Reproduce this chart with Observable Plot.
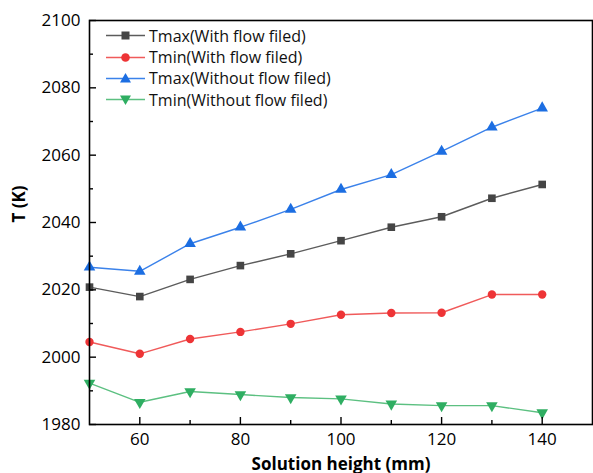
<!DOCTYPE html>
<html><head><meta charset="utf-8">
<script src="https://cdn.jsdelivr.net/npm/d3@7"></script>
<script src="https://cdn.jsdelivr.net/npm/@observablehq/plot@0.6"></script>
<style>
body{margin:0;background:#fff;}
#wrap{position:relative;width:593px;height:473px;overflow:hidden;font-family:"Open Sans",sans-serif;color:#000;}
#legend{position:absolute;left:106px;top:25px;}
.row{display:flex;align-items:center;height:21.4px;font-size:16px;color:#111;white-space:nowrap;}
.row svg{margin-right:3px;}
</style></head><body><div id="wrap"><div id="chart"></div><div id="legend"></div></div>
<script>
const heights = [50, 60, 70, 80, 90, 100, 110, 120, 130, 140];
const tmaxWith = [2020.8, 2018.0, 2023.1, 2027.2, 2030.7, 2034.6, 2038.6, 2041.7, 2047.2, 2051.3];
const tminWith = [2004.5, 2001.0, 2005.4, 2007.5, 2009.9, 2012.6, 2013.1, 2013.2, 2018.6, 2018.6];
const tmaxWithout = [2026.7, 2025.5, 2033.7, 2038.6, 2043.9, 2049.8, 2054.2, 2061.1, 2068.3, 2074.0];
const tminWithout = [1992.3, 1986.6, 1989.8, 1988.9, 1988.0, 1987.6, 1986.1, 1985.6, 1985.6, 1983.5];
const seriesNames = ["Tmax(With flow filed)", "Tmin(With flow filed)", "Tmax(Without flow filed)", "Tmin(Without flow filed)"];
const xTicks = [60, 80, 100, 120, 140];
const xMinor = [70, 90, 110, 130];
const yTicks = [1980, 2000, 2020, 2040, 2060, 2080, 2100];
const yMinor = [1990, 2010, 2030, 2050, 2070, 2090];
const xTitle = "Solution height (mm)";
const yTitle = "T (K)";

const styles = [
  {symbol: "square", marker: "#454545", line: "#5c5c5c", rotate: 0},
  {symbol: "circle", marker: "#ee3436", line: "#f05a5a", rotate: 0},
  {symbol: "triangle", marker: "#1c6ee2", line: "#3b82ea", rotate: 0},
  {symbol: "triangle", marker: "#2fae62", line: "#5cc081", rotate: 180}
];
const seriesValues = [tmaxWith, tminWith, tmaxWithout, tminWithout];
const series = seriesNames.map((name, i) => heights.map((h, j) => ({h, t: seriesValues[i][j], name})));

const W = 593, H = 473, ML = 89, MR = 1, MT = 20, MB = 49;
const plotW = W - ML - MR, plotH = H - MT - MB;

const marks = [];
series.forEach((data, i) => {
  const s = styles[i];
  marks.push(Plot.line(data, {x: "h", y: "t", stroke: s.line, strokeWidth: 1.4}));
});
series.forEach((data, i) => {
  const s = styles[i];
  marks.push(Plot.dot(data, {x: "h", y: "t", symbol: s.symbol, fill: s.marker, stroke: "none", r: s.symbol === "circle" ? 4.2 : 4.3, rotate: s.rotate}));
});

const chart = Plot.plot({
  width: W, height: H,
  marginLeft: ML, marginRight: MR, marginTop: MT, marginBottom: MB,
  style: {fontFamily: "'Open Sans', sans-serif", background: "#fff", color: "#000"},
  x: {domain: [50, 150]},
  y: {domain: [1980, 2100]},
  marks: [
    ...marks,
    Plot.axisY(yTicks, {tickSize: 0, tickPadding: 9, fontSize: 17, label: null, tickFormat: d3.format("d")}),
    Plot.tickY(yTicks, {y: d => d, insetRight: plotW - 7, stroke: "#000", strokeWidth: 1.4}),
    Plot.tickY(yMinor, {y: d => d, insetRight: plotW - 4, stroke: "#000", strokeWidth: 1.4}),
    Plot.axisX(xTicks, {tickSize: 0, tickPadding: 8, fontSize: 17, label: null, tickFormat: d3.format("d")}),
    Plot.tickX(xTicks, {x: d => d, insetTop: plotH - 7, stroke: "#000", strokeWidth: 1.4}),
    Plot.tickX(xMinor, {x: d => d, insetTop: plotH - 4, stroke: "#000", strokeWidth: 1.4}),
    Plot.frame({stroke: "#000", strokeWidth: 1.6}),
    Plot.text([xTitle], {frameAnchor: "bottom", dy: 45, text: d => d, fontSize: 17, fontWeight: "bold", fill: "#000"}),
    Plot.text([yTitle], {frameAnchor: "left", dx: -70, rotate: -90, text: d => d, fontSize: 17, fontWeight: "bold", fill: "#000"})
  ]
});
document.getElementById("chart").appendChild(chart);

const legend = document.getElementById("legend");
seriesNames.forEach((name, i) => {
  const s = styles[i];
  const row = document.createElement("div");
  row.className = "row";
  let sym;
  if (s.symbol === "square") sym = `<rect x="15.5" y="6.5" width="8" height="8" fill="${s.marker}"/>`;
  else if (s.symbol === "circle") sym = `<circle cx="19.5" cy="10.5" r="4.3" fill="${s.marker}"/>`;
  else if (s.rotate === 0) sym = `<path d="M19.5,5 L25,14.5 L14,14.5Z" fill="${s.marker}"/>`;
  else sym = `<path d="M19.5,16 L25,6.5 L14,6.5Z" fill="${s.marker}"/>`;
  row.innerHTML = `<svg width="40" height="21"><line x1="0" y1="10.5" x2="39" y2="10.5" stroke="${s.line}" stroke-width="1.4"/>${sym}</svg><span>${name}</span>`;
  legend.appendChild(row);
});
</script></body></html>
